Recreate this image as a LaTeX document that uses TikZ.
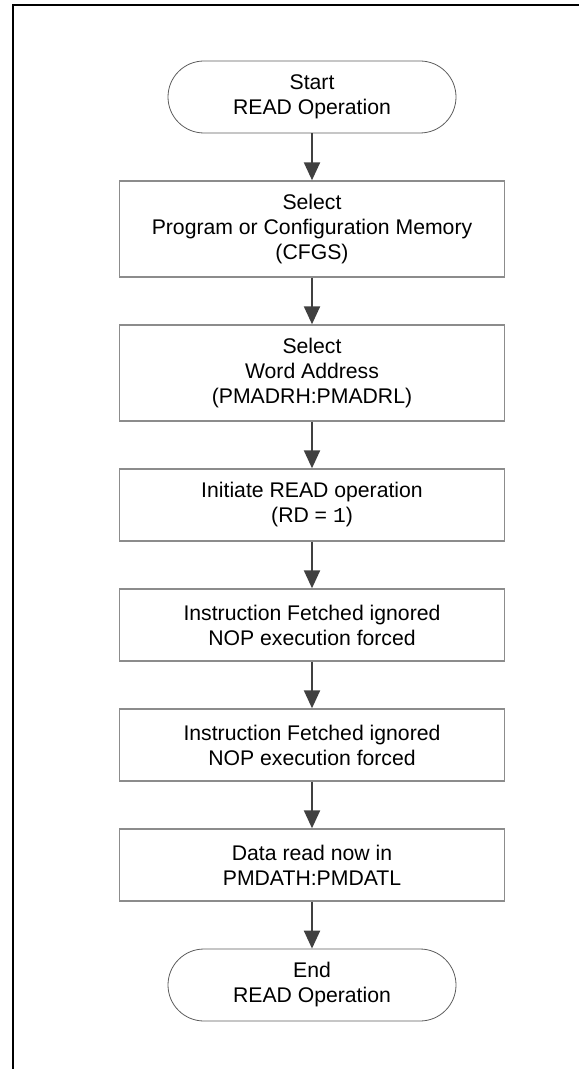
\documentclass[tikz,border=0pt]{standalone}
\usepackage{fontspec}
\setmainfont{Liberation Sans}
\setmonofont{Liberation Mono}
\usetikzlibrary{arrows.meta}
\definecolor{boxgray}{HTML}{8C8C8C}
\definecolor{flowgray}{HTML}{404040}

\begin{document}
\begin{tikzpicture}[x=0.5pt,y=-0.5pt,
    every node/.style={font=\fontsize{10.6}{12.5}\selectfont,align=center,inner sep=0pt},
    stepbox/.style={draw=boxgray,line width=0.7pt,minimum width=192.5pt,minimum height=#1},
    stepbox/.default=36pt,
    endbox/.style={draw=flowgray!85,line width=0.4pt,rounded corners=18pt,minimum width=144pt,minimum height=36pt},
    flow/.style={draw=flowgray,line width=1.1pt,-{Triangle[width=8pt,length=9pt]}}]
            \useasboundingbox (0,0) rectangle (578,1069);
            \draw[line width=1pt] (13,1080)--(13,5)--(590,5);
            \node[endbox] (start) at (312,97){Start\\READ Operation};
            \node[stepbox=48pt] (cfgs) at (312,229){Select\\Program or Configuration Memory\\(CFGS)};
            \node[stepbox=48pt] (addr) at (312,373){Select\\Word Address\\(PMADRH:PMADRL)};
            \node[stepbox] (init) at (312,505){Initiate READ operation\\(RD = \texttt{1})};
            \node[stepbox] (nopa) at (312,625){Instruction Fetched ignored\\NOP execution forced};
            \node[stepbox] (nopb) at (312,745){Instruction Fetched ignored\\NOP execution forced};
            \node[stepbox] (data) at (312,865){Data read now in\\PMDATH:PMDATL};
            \node[endbox] (stop) at (312,985){End\\READ Operation};
            \draw[flow] (start.south)--(cfgs.north);
            \draw[flow] (cfgs.south)--(addr.north);
            \draw[flow] (addr.south)--(init.north);
            \draw[flow] (init.south)--(nopa.north);
            \draw[flow] (nopa.south)--(nopb.north);
            \draw[flow] (nopb.south)--(data.north);
            \draw[flow] (data.south)--(stop.north);
\end{tikzpicture}
\end{document}
